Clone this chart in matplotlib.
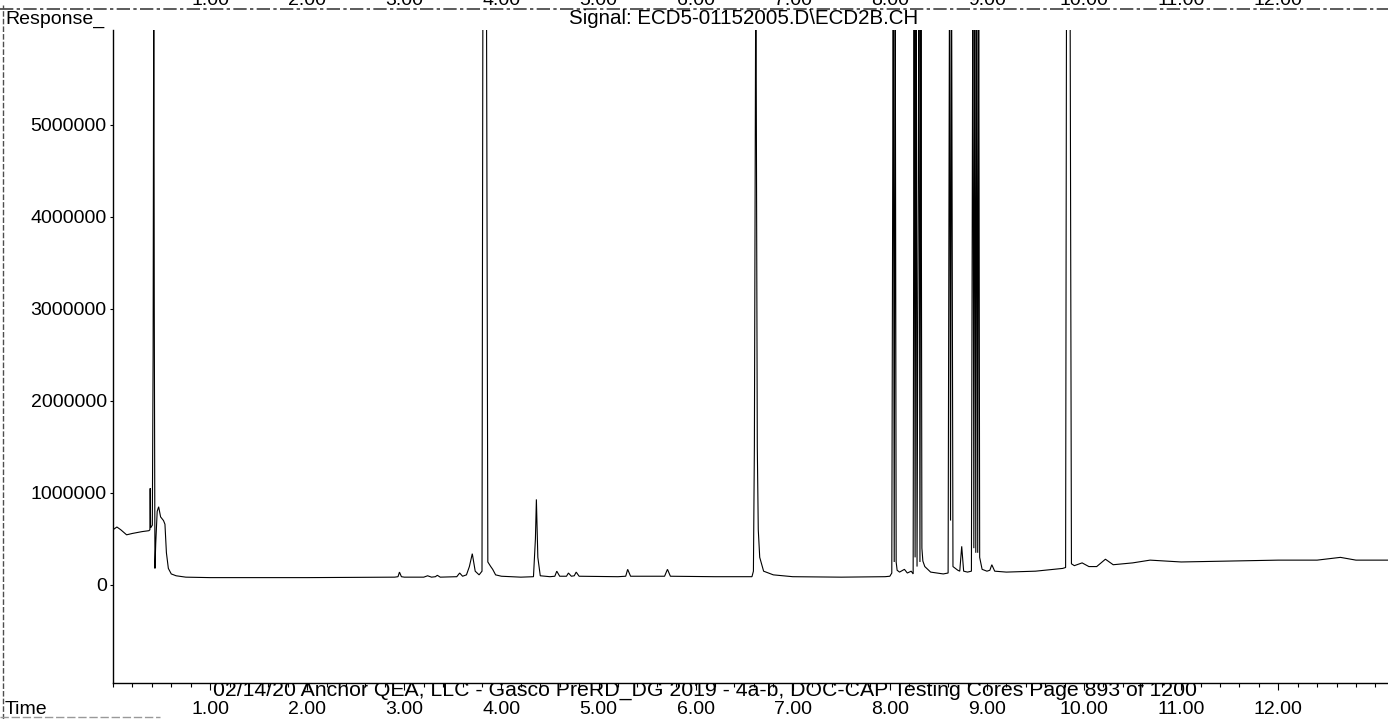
import matplotlib
matplotlib.use("Agg")
import matplotlib.pyplot as plt
from matplotlib.ticker import MultipleLocator, FixedLocator
from matplotlib.lines import Line2D
import matplotlib.transforms as mtransforms

plt.rcParams['font.family'] = ['Liberation Sans', 'DejaVu Sans']

# ---- data (time in min, response in counts) ----
time_min = [
    0.00, 0.04, 0.08, 0.14, 0.20, 0.30, 0.37, 0.38, 0.383, 0.387, 0.405, 0.413, 0.42, 0.425,
    0.432, 0.44, 0.455, 0.47, 0.49, 0.52, 0.535, 0.55, 0.57, 0.60, 0.65, 0.75, 1.00, 2.00,
    2.90, 2.935, 2.95, 2.97, 3.00, 3.20, 3.24, 3.28, 3.32, 3.34, 3.37, 3.54, 3.57, 3.60,
    3.64, 3.67, 3.70, 3.73, 3.77, 3.80, 3.81, 3.815, 3.84, 3.845, 3.86, 3.89, 3.91, 3.94,
    4.00, 4.20, 4.33, 4.35, 4.36, 4.375, 4.40, 4.50, 4.55, 4.57, 4.60, 4.67, 4.69, 4.72,
    4.75, 4.77, 4.80, 5.20, 5.28, 5.30, 5.33, 5.68, 5.71, 5.74, 6.20, 6.58, 6.595, 6.605,
    6.62, 6.635, 6.645, 6.66, 6.70, 6.80, 7.00, 7.50, 7.95, 8.00, 8.02, 8.035, 8.045, 8.055,
    8.065, 8.075, 8.10, 8.15, 8.18, 8.22, 8.24, 8.25, 8.26, 8.27, 8.28, 8.30, 8.31, 8.32,
    8.33, 8.34, 8.36, 8.42, 8.55, 8.60, 8.615, 8.625, 8.635, 8.65, 8.70, 8.72, 8.74, 8.76,
    8.80, 8.84, 8.855, 8.865, 8.875, 8.885, 8.895, 8.905, 8.915, 8.925, 8.95, 9.00, 9.03,
    9.05, 9.08, 9.20, 9.50, 9.78, 9.81, 9.82, 9.83, 9.845, 9.855, 9.87, 9.90, 9.98, 10.05,
    10.13, 10.22, 10.30, 10.50, 10.68, 11.00, 11.50, 12.00, 12.40, 12.64, 12.80, 13.13,
]
response = [
    600000, 630000, 600000, 545000, 560000, 580000, 590000, 600000, 1050000, 620000, 650000, 2500000, 7000000, 3000000,
    180000, 450000, 800000, 850000, 740000, 700000, 660000, 350000, 180000, 120000, 100000, 85000, 80000, 80000,
    85000, 90000, 140000, 90000, 85000, 85000, 100000, 85000, 90000, 105000, 85000, 90000, 130000, 95000,
    110000, 200000, 340000, 150000, 110000, 150000, 7000000, 7000000, 7000000, 7000000, 250000, 200000, 170000, 110000,
    95000, 85000, 90000, 500000, 930000, 300000, 100000, 90000, 95000, 150000, 95000, 95000, 130000, 95000,
    100000, 140000, 95000, 90000, 95000, 170000, 95000, 95000, 170000, 95000, 90000, 90000, 150000, 1500000,
    7000000, 1500000, 600000, 300000, 150000, 110000, 90000, 85000, 90000, 95000, 130000, 7000000, 250000, 7000000,
    250000, 160000, 140000, 170000, 130000, 150000, 120000, 7000000, 300000, 7000000, 200000, 7000000, 250000, 7000000,
    400000, 260000, 200000, 140000, 120000, 130000, 7000000, 700000, 7000000, 200000, 160000, 150000, 420000, 150000,
    140000, 150000, 7000000, 400000, 7000000, 350000, 7000000, 350000, 7000000, 300000, 170000, 150000, 160000,
    220000, 150000, 140000, 150000, 180000, 190000, 7000000, 7000000, 7000000, 7000000, 230000, 210000, 240000, 200000,
    200000, 280000, 220000, 240000, 270000, 250000, 260000, 270000, 270000, 300000, 270000, 270000,
]

y_tick_values = [0, 1000000, 2000000, 3000000, 4000000, 5000000]
y_tick_labels = ["0", "1000000", "2000000", "3000000", "4000000", "5000000"]
x_tick_values = [1, 2, 3, 4, 5, 6, 7, 8, 9, 10, 11, 12]
x_tick_labels = ["1.00", "2.00", "3.00", "4.00", "5.00", "6.00", "7.00", "8.00", "9.00", "10.00", "11.00", "12.00"]

signal_title = "Signal: ECD5-01152005.D\\ECD2B.CH"
footer_text = "02/14/20 Anchor QEA, LLC - Gasco PreRD_DG 2019 - 4a-b, DOC-CAP Testing Cores Page 893 of 1200"

W, H = 1388, 719
fig = plt.figure(figsize=(W / 100, H / 100), dpi=100)
fig.patch.set_facecolor("white")

ax_left, ax_right, ax_top, ax_bottom = 113, 1388, 30, 683
ax = fig.add_axes([ax_left / W, (H - ax_bottom) / H, (ax_right - ax_left) / W, (ax_bottom - ax_top) / H])
ax.set_facecolor("white")

ax.plot(time_min, response, color="black", lw=0.8, solid_joinstyle="miter")

ax.set_xlim(0, 13.13)
ax.set_ylim(-1065000, 6030000)

for s in ["top", "right"]:
    ax.spines[s].set_visible(False)
for s in ["left", "bottom"]:
    ax.spines[s].set_linewidth(1.0)
    ax.spines[s].set_color("black")

ax.xaxis.set_major_locator(FixedLocator(x_tick_values))
ax.set_xticklabels(x_tick_labels, fontsize=14)
ax.xaxis.set_minor_locator(MultipleLocator(0.2))
ax.tick_params(axis="x", which="major", direction="out", length=5, width=0.8, pad=8)
ax.tick_params(axis="x", which="minor", direction="out", length=3, width=0.8)

ax.yaxis.set_major_locator(FixedLocator(y_tick_values))
ax.set_yticklabels(y_tick_labels, fontsize=14)
ax.tick_params(axis="y", which="major", direction="out", length=2.5, width=0.8, pad=2)

# header / footer texts
fig.text(5 / W, 1 - 19 / H, "Response_", fontsize=14, ha="left", va="center")
fig.text(744 / W, 1 - 19 / H, signal_title, fontsize=14.8, ha="center", va="center")
fig.text(5 / W, 1 - 709 / H, "Time", fontsize=14, ha="left", va="center")
fig.text(705 / W, 1 - 690 / H, footer_text, fontsize=15.3, ha="center", va="center", zorder=-1)

# cut-off tick labels of the previous page along the top edge
trans_top = mtransforms.blended_transform_factory(ax.transData, fig.transFigure)
for xv, lab in zip(x_tick_values, x_tick_labels):
    fig.text(xv, 1 - 5 / H, lab, fontsize=14, ha="center", va="baseline", transform=trans_top)

# scan margin lines
fig.add_artist(Line2D([0, 1], [1 - 9 / H, 1 - 9 / H], transform=fig.transFigure,
                      color="0.25", lw=1.2, ls=(0, (8, 2, 2, 2))))
fig.add_artist(Line2D([3 / W, 3 / W], [0, 1 - 5 / H], transform=fig.transFigure,
                      color="0.3", lw=1.0, ls=(0, (4, 1.5))))
fig.add_artist(Line2D([0, 160 / W], [1 - 717 / H, 1 - 717 / H], transform=fig.transFigure,
                      color="0.6", lw=1.0, ls=(0, (6, 2))))

fig.savefig("out.png", dpi=100, facecolor="white")
